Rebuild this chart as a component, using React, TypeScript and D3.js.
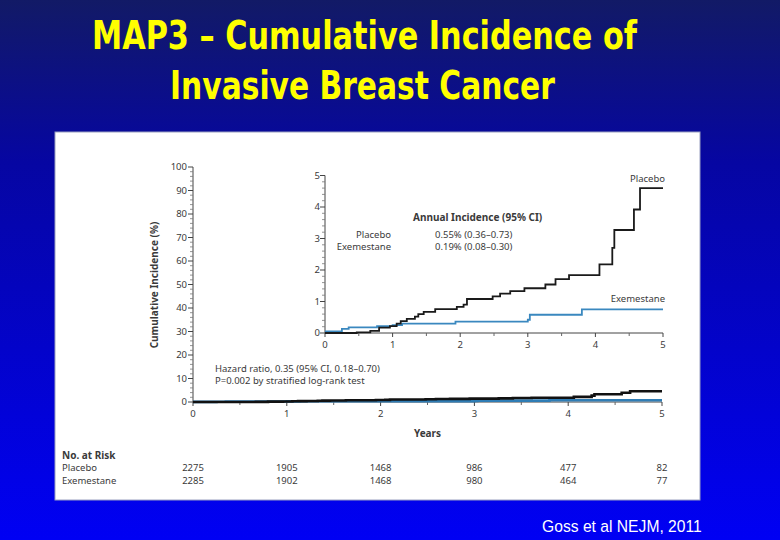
import React, { useLayoutEffect, useRef } from "react";
import * as d3 from "d3";

const titleLines = ["MAP3 – Cumulative Incidence of", "Invasive Breast Cancer"];
const citation = "Goss et al NEJM, 2011";

const placeboT = [0, 0.47, 0.67, 0.8, 0.96, 1.06, 1.12, 1.21, 1.33, 1.38, 1.46, 1.63, 1.95, 2.05, 2.1, 2.48, 2.59, 2.74, 2.95, 3.26, 3.41, 3.61, 4.06, 4.25, 4.28, 4.57, 4.66, 5.0];
const placeboV = [0, 0.02, 0.07, 0.17, 0.22, 0.3, 0.38, 0.45, 0.52, 0.6, 0.67, 0.76, 0.83, 0.9, 1.08, 1.16, 1.25, 1.33, 1.42, 1.54, 1.71, 1.84, 2.18, 2.7, 3.27, 3.92, 4.6, 4.6];
const exeT = [0, 0.25, 0.35, 0.77, 1.0, 1.14, 1.93, 3.0, 3.03, 3.8, 5.0];
const exeV = [0.05, 0.13, 0.18, 0.22, 0.25, 0.3, 0.36, 0.42, 0.58, 0.75, 0.75];

const xTicks = [0, 1, 2, 3, 4, 5];
const mainYTicks = [0, 10, 20, 30, 40, 50, 60, 70, 80, 90, 100];
const insetYTicks = [0, 1, 2, 3, 4, 5];

const riskGroups = ["Placebo", "Exemestane"];
const riskPlacebo = [2275, 1905, 1468, 986, 477, 82];
const riskExe = [2285, 1902, 1468, 980, 464, 77];

const incidenceRows = ["Placebo", "Exemestane"];
const incidenceVals = ["0.55% (0.36–0.73)", "0.19% (0.08–0.30)"];

const FONT = "'Noto Sans', 'Open Sans', sans-serif";
const TXT = "#3a3a3a";

function pts(t: number[], v: number[]) {
  return t.map((d, i) => [d, v[i]] as [number, number]);
}

const titleX = [92, 170];
const titleY = [49, 99];
const titleW = [545, 385];

export default function App() {
  const W = 780, H = 540;
  const mx = d3.scaleLinear().domain([0, 5]).range([193, 662]);
  const my = d3.scaleLinear().domain([0, 100]).range([402, 167]);
  const ix = d3.scaleLinear().domain([0, 5]).range([325, 663]);
  const iy = d3.scaleLinear().domain([0, 5]).range([333, 175.5]);

  const titleRefs = useRef<(SVGTextElement | null)[]>([]);
  const citeRef = useRef<SVGTextElement | null>(null);

  useLayoutEffect(() => {
    titleRefs.current.forEach((el, i) => {
      if (!el) return;
      const len = el.getComputedTextLength();
      const s = len > 0 ? titleW[i] / len : 1;
      el.setAttribute("transform", `translate(${titleX[i]},${titleY[i]}) scale(${s},1)`);
    });
    if (citeRef.current) {
      const len = citeRef.current.getComputedTextLength();
      const s = len > 0 ? 160 / len : 1;
      citeRef.current.setAttribute("transform", `translate(542,532) scale(${s},1)`);
    }
  }, []);

  const mLine = d3.line<[number, number]>().x(d => mx(d[0])).y(d => my(d[1])).curve(d3.curveStepAfter);
  const iLine = d3.line<[number, number]>().x(d => ix(d[0])).y(d => iy(d[1])).curve(d3.curveStepAfter);

  const mainMinorY = d3.range(0, 101, 2).filter(v => v % 10 !== 0);
  const insetMinorY = d3.range(0, 5.01, 0.2).map(v => +v.toFixed(1)).filter(v => Math.abs(v - Math.round(v)) > 0.01);
  const halfX = [0.5, 1.5, 2.5, 3.5, 4.5];

  return (
    <svg width={W} height={H} style={{ position: "absolute", left: 0, top: 0, display: "block" }}>
      <defs>
        <linearGradient id="bg" x1="0" y1="0" x2="0" y2="1">
          <stop offset="0" stopColor="#121a66" />
          <stop offset="0.3" stopColor="#0606a2" />
          <stop offset="1" stopColor="#0000f4" />
        </linearGradient>
      </defs>
      <rect x={0} y={0} width={W} height={H} fill="url(#bg)" />
      {titleLines.map((t, i) => (
        <text key={i} ref={el => { titleRefs.current[i] = el; }}
          transform={`translate(${titleX[i]},${titleY[i]}) scale(0.7,1)`}
          fill="#ffff00" fontFamily="'DejaVu Sans', sans-serif" fontWeight="bold" fontSize={39}>{t}</text>
      ))}
      <text ref={citeRef} transform="translate(542,532)" fill="#ffffff"
        fontFamily="'Liberation Sans', Arial, sans-serif" fontSize={17}>{citation}</text>

      <rect x={55} y={132} width={645} height={368} fill="#ffffff" stroke="#9aa0c0" strokeWidth={1} />

      <g fontFamily={FONT} fontSize={9.5} fill={TXT}>
        <line x1={mx(0)} x2={mx(0)} y1={my(0)} y2={my(100)} stroke="#444" strokeWidth={1} />
        <line x1={mx(0)} x2={mx(5)} y1={my(0)} y2={my(0)} stroke="#444" strokeWidth={1} />
        {mainYTicks.map(v => (
          <g key={v}>
            <line x1={mx(0) - 5} x2={mx(0)} y1={my(v)} y2={my(v)} stroke="#444" />
            <text x={mx(0) - 6} y={my(v)} dy="0.35em" textAnchor="end">{v}</text>
          </g>
        ))}
        {mainMinorY.map(v => (
          <line key={v} x1={mx(0) - 3} x2={mx(0)} y1={my(v)} y2={my(v)} stroke="#777" strokeWidth={0.8} />
        ))}
        {xTicks.map(v => (
          <g key={v}>
            <line x1={mx(v)} x2={mx(v)} y1={my(0)} y2={my(0) + 4} stroke="#444" />
            <text x={mx(v)} y={my(0) + 15} textAnchor="middle">{v}</text>
          </g>
        ))}
        {halfX.map(v => (
          <line key={v} x1={mx(v)} x2={mx(v)} y1={my(0)} y2={my(0) + 3} stroke="#666" />
        ))}
        <text transform={`translate(158,285) rotate(-90)`} textAnchor="middle" fontWeight="bold" fontSize={10}>Cumulative Incidence (%)</text>
        <text x={mx(2.5)} y={437} textAnchor="middle" fontWeight="bold" fontSize={10}>Years</text>
        <text x={215} y={372}>Hazard ratio, 0.35 (95% CI, 0.18–0.70)</text>
        <text x={215} y={384}>P=0.002 by stratified log-rank test</text>

        <text x={62} y={459} fontWeight="bold" fontSize={10}>No. at Risk</text>
        {riskGroups.map((g, i) => (
          <text key={g} x={62} y={471 + i * 13}>{g}</text>
        ))}
        {riskPlacebo.map((n, i) => (
          <text key={"p" + i} x={mx(xTicks[i])} y={471} textAnchor="middle">{n}</text>
        ))}
        {riskExe.map((n, i) => (
          <text key={"e" + i} x={mx(xTicks[i])} y={484} textAnchor="middle">{n}</text>
        ))}
      </g>
      <path d={mLine(pts(exeT, exeV)) || ""} fill="none" stroke="#2f7db5" strokeWidth={2.6} />
      <path d={mLine(pts(placeboT, placeboV)) || ""} fill="none" stroke="#111" strokeWidth={2.6} />

      <rect x={ix(0) + 1} y={iy(5) - 2} width={ix(5) - ix(0) + 6} height={iy(0) - iy(5) + 1} fill="#ffffff" />
      <g fontFamily={FONT} fontSize={9.5} fill={TXT}>
        <line x1={ix(0)} x2={ix(0)} y1={iy(0)} y2={iy(5)} stroke="#444" />
        <line x1={ix(0)} x2={ix(5)} y1={iy(0)} y2={iy(0)} stroke="#444" />
        {insetYTicks.map(v => (
          <g key={v}>
            <line x1={ix(0) - 5} x2={ix(0)} y1={iy(v)} y2={iy(v)} stroke="#444" />
            <text x={ix(0) - 5} y={iy(v)} dy="0.35em" textAnchor="end">{v}</text>
          </g>
        ))}
        {insetMinorY.map(v => (
          <line key={v} x1={ix(0) - 3} x2={ix(0)} y1={iy(v)} y2={iy(v)} stroke="#777" strokeWidth={0.8} />
        ))}
        {xTicks.map(v => (
          <g key={v}>
            <line x1={ix(v)} x2={ix(v)} y1={iy(0)} y2={iy(0) + 4} stroke="#444" />
            <text x={ix(v)} y={iy(0) + 15} textAnchor="middle">{v}</text>
          </g>
        ))}
        {halfX.map(v => (
          <line key={v} x1={ix(v)} x2={ix(v)} y1={iy(0)} y2={iy(0) + 3} stroke="#666" />
        ))}
        <text x={413} y={221} fontWeight="bold" fontSize={10}>Annual Incidence (95% CI)</text>
        {incidenceRows.map((r, i) => (
          <g key={r}>
            <text x={391} y={238 + i * 12} textAnchor="end">{r}</text>
            <text x={435} y={238 + i * 12}>{incidenceVals[i]}</text>
          </g>
        ))}
        <text x={665} y={182} textAnchor="end">Placebo</text>
        <text x={665} y={302} textAnchor="end">Exemestane</text>
      </g>
      <path d={iLine(pts(exeT, exeV)) || ""} fill="none" stroke="#3a88bf" strokeWidth={1.8} />
      <path d={iLine(pts(placeboT, placeboV)) || ""} fill="none" stroke="#1a1a1a" strokeWidth={1.8} />
    </svg>
  );
}
